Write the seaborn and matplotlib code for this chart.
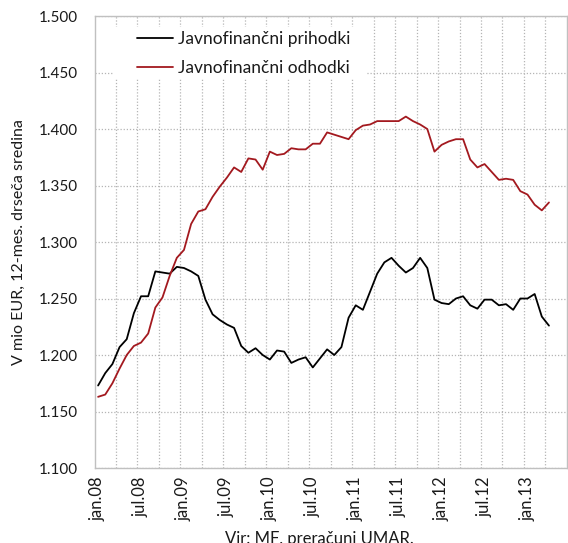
import numpy as np
import pandas as pd
import matplotlib
matplotlib.use("Agg")
import matplotlib.pyplot as plt
from matplotlib.ticker import FuncFormatter
from matplotlib.patches import Rectangle
import seaborn as sns

# Monthly categories jan.08 - jun.13 (data up to apr.13)
months = pd.date_range("2008-01-01", "2013-06-01", freq="MS")

prihodki = [1173, 1184, 1192, 1207, 1214, 1237, 1252, 1252, 1274, 1273, 1272, 1278,
            1277, 1274, 1270, 1249, 1236, 1231, 1227, 1224, 1208, 1202, 1206, 1200,
            1196, 1204, 1203, 1193, 1196, 1198, 1189, 1197, 1205, 1200, 1207, 1233,
            1244, 1240, 1256, 1272, 1282, 1286, 1279, 1273, 1277, 1286, 1277, 1249,
            1246, 1245, 1250, 1252, 1244, 1241, 1249, 1249, 1244, 1245, 1240, 1250,
            1250, 1254, 1234, 1226]

odhodki = [1163, 1165, 1175, 1188, 1200, 1208, 1211, 1219, 1242, 1251, 1270, 1286,
           1293, 1316, 1327, 1329, 1340, 1349, 1357, 1366, 1362, 1374, 1373, 1364,
           1380, 1377, 1378, 1383, 1382, 1382, 1387, 1387, 1397, 1395, 1393, 1391,
           1399, 1403, 1404, 1407, 1407, 1407, 1407, 1411, 1407, 1404, 1400, 1380,
           1386, 1389, 1391, 1391, 1373, 1366, 1369, 1362, 1355, 1356, 1355, 1345,
           1342, 1333, 1328, 1335]

tick_labels = ["jan.08", "jul.08", "jan.09", "jul.09", "jan.10", "jul.10",
               "jan.11", "jul.11", "jan.12", "jul.12", "jan.13"]

series_names = ["Javnofinančni prihodki", "Javnofinančni odhodki"]
colors = ["#000000", "#A3191F"]

# long-form table for seaborn
n = len(prihodki)
df = pd.DataFrame({
    "pos": list(range(n)) * 2,
    "value": prihodki + odhodki,
    "serija": [series_names[0]] * n + [series_names[1]] * len(odhodki),
})

sns.set_style("white")
plt.rcParams["font.family"] = ["Lato", "DejaVu Sans"]
text_col = "#1a1a1a"

fig = plt.figure(figsize=(5.68, 5.43), dpi=100)
ax = fig.add_axes([0.1664, 0.1381, 0.998 - 0.1664, 0.9705 - 0.1381])

sns.lineplot(data=df, x="pos", y="value", hue="serija", palette=colors,
             linewidth=1.3, ax=ax, zorder=3)

ax.set_xlim(-0.5, len(months) - 0.5)
ax.set_ylim(1100, 1500)
ax.set_yticks(np.arange(1100, 1501, 50))
ax.yaxis.set_major_formatter(FuncFormatter(lambda v, p: f"{int(v):,}".replace(",", ".")))

ax.set_xticks(np.arange(0, len(months), 6))
ax.set_xticklabels(tick_labels, rotation=90)
ax.set_xticks(np.arange(2.5, len(months) - 1, 3), minor=True)
ax.tick_params(axis="both", which="both", length=0, colors=text_col)
ax.tick_params(axis="y", labelsize=11, pad=12)
ax.tick_params(axis="x", labelsize=12, pad=6)

ax.grid(True, axis="y", which="major", color="#b5b5b5", linestyle=(0, (1, 1.5)), linewidth=0.9)
ax.grid(True, axis="x", which="minor", color="#b5b5b5", linestyle=(0, (1, 1.5)), linewidth=0.9)
ax.set_axisbelow(True)

for s in ax.spines.values():
    s.set_color("#c0c0c0")
    s.set_linewidth(1.0)

ax.set_xlabel("")
ax.set_ylabel("V mio EUR, 12-mes. drseča sredina", fontsize=11.5, color=text_col, labelpad=9)

# white block behind the legend (hides the grid like the original)
ax.add_patch(Rectangle((0.039, 0.863), 0.537, 0.113, transform=ax.transAxes,
                       facecolor="white", edgecolor="none", zorder=2))

leg = ax.legend(loc="upper left", bbox_to_anchor=(0.0898, 0.966), frameon=False,
                fontsize=12.5, handlelength=2.07, handletextpad=0.3,
                labelspacing=0.75, borderpad=0, borderaxespad=0)
for t in leg.get_texts():
    t.set_color(text_col)

fig.text(0.563, 0.022, "Vir: MF, preračuni UMAR.", ha="center", va="top",
         fontsize=12, color=text_col)

fig.savefig("out.png", dpi=100)
